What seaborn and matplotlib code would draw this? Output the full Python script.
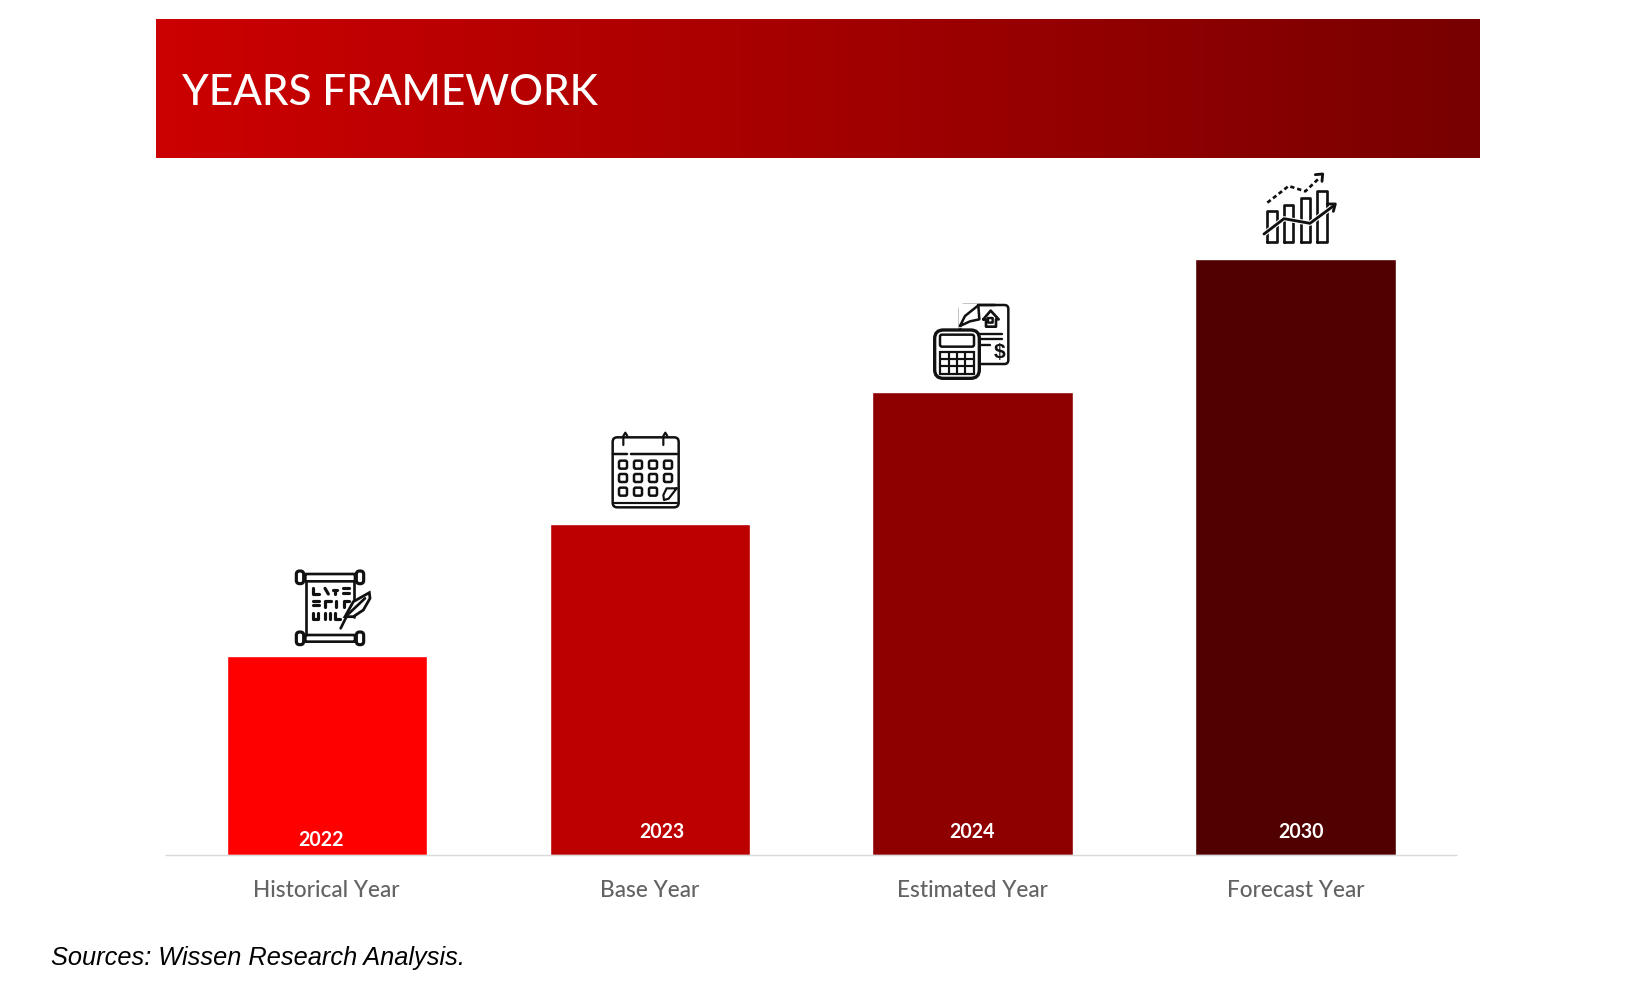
import numpy as np
import pandas as pd
import matplotlib
matplotlib.use("Agg")
import matplotlib.pyplot as plt
from matplotlib.colors import LinearSegmentedColormap
from matplotlib.patches import FancyBboxPatch, Rectangle
import seaborn as sns

categories = ["Historical Year", "Base Year", "Estimated Year", "Forecast Year"]
values = [1.5, 2.5, 3.5, 4.5]
years = ["2022", "2023", "2024", "2030"]
bar_colors = ["#FF0000", "#BC0000", "#8E0000", "#500000"]

W, H = 1643, 982
sns.set_theme(style="white")
plt.rcParams["font.family"] = ["Lato", "DejaVu Sans"]
fig = plt.figure(figsize=(W / 100, H / 100), dpi=100, facecolor="white")

# chart axes
ax = fig.add_axes([165.2 / W, 1 - 855 / H, (1457 - 165.2) / W, (855 - 259.3) / H])
df = pd.DataFrame({"cat": categories, "val": values})
sns.barplot(data=df, x="cat", y="val", hue="cat", palette=bar_colors, legend=False,
            width=0.62, saturation=1, ax=ax)
ax.set_xlim(-0.5, 3.5)
ax.set_ylim(0, 4.5)
ax.set_xlabel("")
ax.set_ylabel("")
ax.set_yticks([])
for s in ["top", "left", "right"]:
    ax.spines[s].set_visible(False)
ax.spines["bottom"].set_color("#D9D9D9")
ax.spines["bottom"].set_linewidth(1.0)
ax.spines["bottom"].set_capstyle("butt")
ax.tick_params(axis="x", length=0, pad=18, labelsize=16.3, labelcolor="#636363")
ax.patch.set_alpha(0)

# overlay in pixel coordinates
ov = fig.add_axes([0, 0, 1, 1], zorder=5)
ov.set_xlim(0, W)
ov.set_ylim(H, 0)
ov.axis("off")
ov.patch.set_alpha(0)

cmap = LinearSegmentedColormap.from_list(
    "banner", [(0, "#CC0000"), (0.36, "#B00000"), (0.75, "#8F0000"), (1, "#780000")])
ov.imshow(np.linspace(0, 1, 512)[None, :], cmap=cmap, aspect="auto",
          extent=(155.5, 1479, 158, 19), interpolation="bilinear", zorder=1)
ov.set_xlim(0, W)
ov.set_ylim(H, 0)


def fit(t, width):
    r = fig.canvas.get_renderer()
    t.set_fontsize(t.get_fontsize() * width / t.get_window_extent(r).width)


title = ov.text(182.3, 105, "YEARS FRAMEWORK", color="white", fontsize=32, va="baseline", ha="left",
                fontweight="medium", zorder=3)
fit(title, 416)
for lab in ax.get_xticklabels():
    lab.set_fontweight("medium")

year_xy = [(320.7, 846), (662, 837.7), (971.5, 837.7), (1300.6, 837.7)]
for y_lab, (x, y) in zip(years, year_xy):
    t = ov.text(x, y, y_lab, color="white", fontsize=15, fontweight="bold", ha="center", va="baseline", zorder=3)
    fit(t, 45.5)

ov.text(51, 965, "Sources: Wissen Research Analysis.", fontsize=18.3, style="italic",
        family=["Liberation Sans", "DejaVu Sans"], color="black", ha="left", va="baseline", zorder=3)


def L(o, pts, lw=1.6, ls="-"):
    xs = [o[0] + p[0] / 3 for p in pts]
    ys = [o[1] + p[1] / 3 for p in pts]
    ov.plot(xs, ys, color="#111111", lw=lw * 1.2, ls=ls, solid_capstyle="round", solid_joinstyle="round", zorder=4)


def RB(o, x0, y0, x1, y1, r=8, lw=1.6):
    ov.add_patch(FancyBboxPatch((o[0] + x0 / 3 + r / 3, o[1] + y0 / 3 + r / 3),
                                (x1 - x0 - 2 * r) / 3, (y1 - y0 - 2 * r) / 3,
                                boxstyle=f"round,pad={r/3},rounding_size={r/3}",
                                fc="white", ec="#111111", lw=lw * 1.2, zorder=4))


def F(o, pts, ec="#111111", lw=1.6):
    ov.fill([o[0] + p[0] / 3 for p in pts], [o[1] + p[1] / 3 for p in pts],
            fc="white", ec=ec, lw=lw, zorder=4)


# scroll icon
o = (270, 420)
RB(o, 106, 462, 255, 484, r=2, lw=1.6)
RB(o, 106, 645, 255, 665, r=2, lw=1.6)
L(o, [(108, 484), (108, 645)], 1.6)
L(o, [(253, 484), (253, 590)], 1.6)
for cx in (90, 270):
    for cy in (472, 655):
        RB(o, cx - 11, cy - 19, cx + 11, cy + 19, r=10, lw=1.9)
for seg in ([(128, 505), (128, 522), (146, 522)], [(165, 505), (175, 522)], [(190, 510), (200, 510)], [(195, 522), (195, 510)],
            [(218, 505), (238, 505)], [(218, 520), (238, 520)],
            [(128, 543), (146, 543)], [(128, 556), (146, 556)], [(166, 560), (166, 543), (182, 543)], [(198, 560), (198, 543)],
            [(222, 560), (222, 543), (236, 543)],
            [(128, 580), (128, 598), (144, 598), (144, 580)], [(166, 580), (166, 598)], [(180, 580), (180, 598)], [(196, 580), (196, 598), (210, 598)]):
    L(o, seg, 1.9)
F(o, [(225, 590), (250, 545), (298, 518), (300, 535), (280, 570), (250, 590)], lw=2.0)
L(o, [(212, 625), (232, 585), (285, 535)], 1.6)

# calendar icon
RB(o, 1028, 52, 1226, 262, r=14, lw=1.5)
L(o, [(1030, 102), (1070, 102)], 1.5)
L(o, [(1082, 102), (1222, 102)], 1.5)
L(o, [(1032, 248), (1222, 248)], 1.3)
for hx in (1066, 1186):
    L(o, [(hx - 6, 75), (hx - 6, 48), (hx, 38), (hx + 6, 48)], 1.3)
for ry in (122, 162, 203):
    for rx in (1047, 1092, 1137, 1182):
        if ry == 203 and rx == 1182:
            continue
        RB(o, rx, ry, rx + 24, ry + 24, r=5, lw=1.5)
L(o, [(1220, 205), (1190, 205), (1180, 225), (1182, 240), (1196, 236), (1220, 205)], 1.3)

# calculator + document icon
o = (920, 160)
RB(o, 120, 435, 265, 612, r=12, lw=1.5)
F(o, [(117, 432), (176, 432), (176, 482), (117, 506)], ec="white", lw=0)
L(o, [(120, 498), (135, 468), (175, 436), (178, 478), (150, 484), (120, 498)], 1.5)
L(o, [(175, 436), (226, 436)], 1.5)
L(o, [(190, 478), (212, 452), (236, 478), (228, 478), (228, 500), (198, 500), (198, 478), (190, 478)], 1.6)
RB(o, 204, 474, 218, 488, r=1, lw=1.4)
L(o, [(180, 522), (245, 522)], 1.4)
L(o, [(180, 538), (245, 538)], 1.4)
L(o, [(180, 554), (210, 554)], 1.4)
ov.text(o[0] + 238 / 3, o[1] + 577 / 3, "$", fontsize=15, fontweight="bold", color="#111111",
        ha="center", va="center", zorder=5, family=["Liberation Sans", "DejaVu Sans"])
RB(o, 44, 510, 178, 655, r=26, lw=2.0)
RB(o, 60, 524, 162, 560, r=6, lw=1.5)
ov.add_patch(Rectangle((o[0] + 60 / 3, o[1] + 575 / 3), 102 / 3, 66 / 3, fc="white", ec="#111111", lw=1.6, zorder=4))
for gx in (86, 111, 136):
    L(o, [(gx, 575), (gx, 641)], 1.3)
for gy in (597, 619):
    L(o, [(60, gy), (162, gy)], 1.3)

# growth chart icon
for x0, x1, y0 in ((1042, 1072, 154), (1092, 1120, 134), (1142, 1170, 114), (1192, 1222, 94)):
    L(o, [(x0, 245), (x0, y0), (x1, y0), (x1, 245), (x0, 245)], 1.6)
L(o, [(1042, 128), (1106, 78), (1156, 94), (1200, 52)], 1.6, ls=(0, (1.6, 1.1)))
L(o, [(1186, 44), (1208, 42), (1206, 64)], 1.7)
ov.plot([o[0] + p[0] / 3 for p in [(1032, 222), (1092, 176), (1170, 190), (1240, 138)]],
        [o[1] + p[1] / 3 for p in [(1032, 222), (1092, 176), (1170, 190), (1240, 138)]],
        color="white", lw=3.6, zorder=4)
L(o, [(1032, 222), (1092, 176), (1170, 190), (1240, 138)], 1.7)
L(o, [(1222, 132), (1246, 132), (1240, 154)], 1.7)

fig.savefig("out.png", dpi=100, facecolor="white")
